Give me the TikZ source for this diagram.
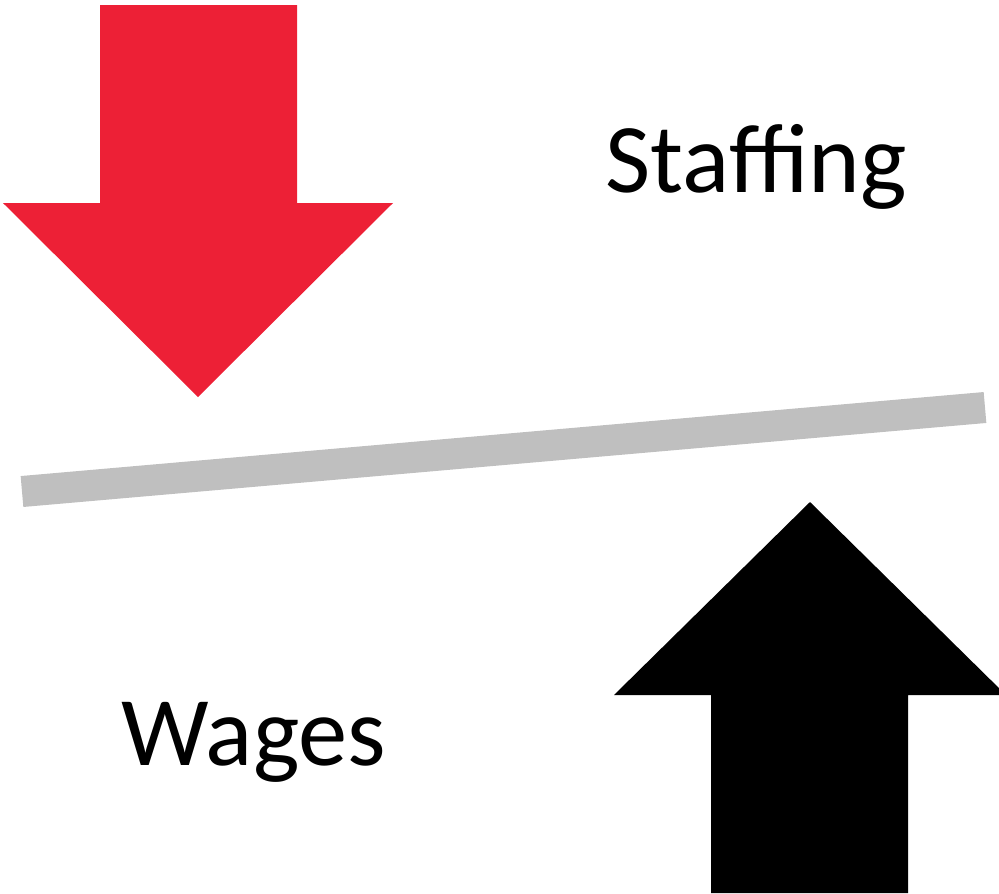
\documentclass[tikz,border=0pt]{standalone}
\usepackage{fontspec}
\setmainfont{Carlito}
\definecolor{arrowred}{RGB}{237,32,54}
\definecolor{bargray}{RGB}{191,191,191}
\tikzset{
  lbl/.style={inner sep=0pt, anchor=base west, font=\fontsize{28}{33}\selectfont},
}
\begin{document}
\begin{tikzpicture}[x=0.01cm,y=-0.01cm]
\useasboundingbox (0,0) rectangle (999,893);
% red down arrow
\fill[arrowred] (100,5) -- (297,5) -- (297,203) -- (393,203) -- (198,397) -- (3,203) -- (100,203) -- cycle;
% gray bar
\coordinate (bl) at (22,491.5);
\coordinate (br) at (985,407.5);
\draw[bargray, line width=0.31cm] (bl) -- (br);
% black up arrow
\fill[black] (810,502) -- (1006,695) -- (908,695) -- (908,893) -- (711,893) -- (711,695) -- (614,695) -- cycle;
\node[lbl] (staff) at (605,192) {Staffing};
\node[lbl] (wages) at (121,765) {Wages};
\end{tikzpicture}
\end{document}
